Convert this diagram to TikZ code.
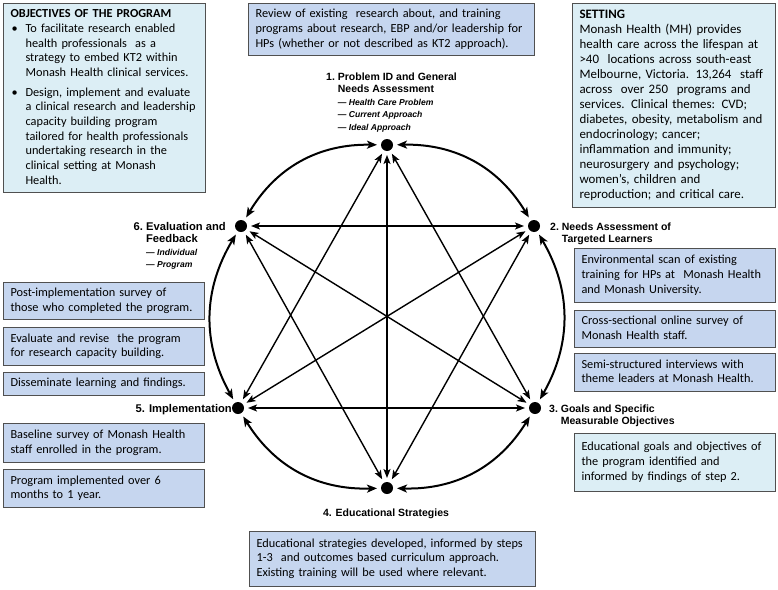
\documentclass[tikz,border=0pt]{standalone}
\usepackage{fontspec}
\setmainfont{Liberation Sans}
\newfontfamily\calfont{Carlito}
\usetikzlibrary{arrows.meta}
\definecolor{boxblue}{HTML}{C6D6EF}
\definecolor{boxcyan}{HTML}{DCEEF5}
\definecolor{boxline}{HTML}{505050}
\newcommand{\sublab}{\fontsize{8.6}{12.6}\selectfont\bfseries\itshape}
\newcommand{\rows}[1]{\begin{tabular}{@{}l@{}}#1\end{tabular}}
\tikzset{
  panel/.style={draw=boxline, line width=1.1pt, anchor=north west, inner xsep=7pt,
    inner ysep=0pt, align=left, font=\calfont\fontsize{12.3}{14.7}\selectfont},
  bluepanel/.style={panel, fill=boxblue},
  cyanpanel/.style={panel, fill=boxcyan},
  dot/.style={circle, fill=black, minimum size=12pt, inner sep=0pt, outer sep=4pt},
  steplabel/.style={font=\bfseries\fontsize{10.5}{12.6}\selectfont, inner sep=0pt},
  bigsteplabel/.style={font=\bfseries\fontsize{11.2}{13.2}\selectfont, inner sep=0pt},
  ring/.style={line width=2pt, {Stealth[length=10pt,width=8pt,inset=2.5pt]}-{Stealth[length=10pt,width=8pt,inset=2.5pt]}},
  chord/.style={line width=1.4pt, {Stealth[length=9pt,width=7pt,inset=2.2pt]}-{Stealth[length=9pt,width=7pt,inset=2.2pt]}}
}
\begin{document}
\begin{tikzpicture}[x=1pt,y=-1pt]
\useasboundingbox[fill=white] (0,0) rectangle (778,589);

% boxes
\node[cyanpanel, minimum width=202pt, text width=188pt, minimum height=189pt] (obj) at (3,3)
 {\rows{\textbf{OBJECTIVES OF THE PROGRAM}\\
  \makebox[15pt][l]{\hspace{1pt}\textbullet}To facilitate research enabled\\
  \hspace*{15pt}health professionals~ as a\\
  \hspace*{15pt}strategy to embed KT2 within\\
  \hspace*{15pt}Monash Health clinical services.\\[5pt]
  \makebox[15pt][l]{\hspace{1pt}\textbullet}Design, implement and evaluate\\
  \hspace*{15pt}a clinical research and leadership\\
  \hspace*{15pt}capacity building program\\
  \hspace*{15pt}tailored for health professionals\\
  \hspace*{15pt}undertaking research in the\\
  \hspace*{15pt}clinical setting at Monash\\
  \hspace*{15pt}Health.}};

\node[bluepanel, minimum width=286pt, text width=272pt, minimum height=52pt] (review) at (248,3)
 {\rows{Review of existing~ research about, and training\\
  programs about research, EBP and/or leadership for\\
  HPs (whether or not described as KT2 approach).}};

\node[cyanpanel, minimum width=203pt, text width=189pt, minimum height=204pt,
  font=\calfont\fontsize{12.9}{15}\selectfont] (setting) at (572,3)
 {\rows{\textbf{SETTING}\\
  Monash Health (MH) provides\\
  health care across the lifespan at\\
  >40~ locations across south-east\\
  Melbourne, Victoria. 13,264~ staff\\
  across~ over 250~ programs and\\
  services. Clinical themes: CVD;\\
  diabetes, obesity, metabolism and\\
  endocrinology; cancer;\\
  inflammation and immunity;\\
  neurosurgery and psychology;\\
  women’s, children and\\
  reproduction; and critical care.}};

\node[bluepanel, minimum width=201pt, text width=187pt, minimum height=54pt] (env) at (574,248)
 {\rows{Environmental scan of existing\\
  training for HPs at~ Monash Health\\
  and Monash University.}};
\node[bluepanel, minimum width=201pt, text width=187pt, minimum height=37pt] (cross) at (574,310)
 {\rows{Cross-sectional online survey of\\
  Monash Health staff.}};
\node[bluepanel, minimum width=201pt, text width=187pt, minimum height=38pt] (semi) at (574,353)
 {\rows{Semi-structured interviews with\\
  theme leaders at Monash Health.}};
\node[cyanpanel, minimum width=201pt, text width=187pt, minimum height=58pt] (goals) at (574,433)
 {\rows{Educational goals and objectives of\\
  the program identified and\\
  informed by findings of step 2.}};

\node[bluepanel, minimum width=201pt, text width=187pt, minimum height=37pt] (post) at (3,282)
 {\rows{Post-implementation survey of\\
  those who completed the program.}};
\node[bluepanel, minimum width=201pt, text width=187pt, minimum height=38pt] (eval) at (3,327)
 {\rows{Evaluate and revise~ the program\\
  for research capacity building.}};
\node[bluepanel, minimum width=201pt, text width=187pt, minimum height=23pt] (diss) at (3,372)
 {\rows{Disseminate learning and findings.}};
\node[bluepanel, minimum width=201pt, text width=187pt, minimum height=39pt] (base) at (3,423)
 {\rows{Baseline survey of Monash Health\\
  staff enrolled in the program.}};
\node[bluepanel, minimum width=201pt, text width=187pt, minimum height=38pt] (prog) at (3,469)
 {\rows{Program implemented over 6\\
  months to 1 year.}};

\node[bluepanel, minimum width=286pt, text width=272pt, minimum height=55pt] (edu) at (249,531)
 {\rows{Educational strategies developed, informed by steps\\
  1-3~ and outcomes based curriculum approach.\\
  Existing training will be used where relevant.}};

% dots
\node[dot] (n1) at (387,145) {};
\node[dot] (n2) at (534,226) {};
\node[dot] (n3) at (535,408) {};
\node[dot] (n4) at (387,488) {};
\node[dot] (n5) at (238,408) {};
\node[dot] (n6) at (241,226) {};

% labels
\node[steplabel, anchor=base west] (lab1) at (326,80)
 {1.\ \begin{tabular}[t]{@{}l@{}}Problem ID and General\\Needs Assessment\\
  {\sublab — Health Care Problem}\\{\sublab — Current Approach}\\{\sublab — Ideal Approach}\end{tabular}};
\node[steplabel, anchor=base west] (lab2) at (550,230)
 {2.\ \begin{tabular}[t]{@{}l@{}}Needs Assessment of\\Targeted Learners\end{tabular}};
\node[steplabel, anchor=base west] (lab3) at (549,412)
 {3.\ \begin{tabular}[t]{@{}l@{}}Goals and Specific\\Measurable Objectives\end{tabular}};
\node[steplabel, anchor=base] (lab4) at (386,516) {4. Educational Strategies};
\node[bigsteplabel, anchor=base east] (lab5) at (232,412) {5. Implementation};
\node[bigsteplabel, anchor=base east] (lab6) at (226,230)
 {6.\ \begin{tabular}[t]{@{}l@{}}Evaluation and\\[-0.6pt]Feedback\\[-0.6pt]
  {\sublab — Individual}\\[-0.6pt]{\sublab — Program}\end{tabular}};

% ring
\draw[ring] (n1) to[bend right=30] (n6);
\draw[ring] (n6) to[bend right=30] (n5);
\draw[ring] (n5) to[bend right=30] (n4);
\draw[ring] (n4) to[bend right=30] (n3);
\draw[ring] (n3) to[bend right=30] (n2);
\draw[ring] (n2) to[bend right=30] (n1);

% chords
\draw[chord] (n1) -- (n3);
\draw[chord] (n1) -- (n4);
\draw[chord] (n1) -- (n5);
\draw[chord] (n2) -- (n4);
\draw[chord] (n2) -- (n5);
\draw[chord] (n2) -- (n6);
\draw[chord] (n3) -- (n5);
\draw[chord] (n3) -- (n6);
\draw[chord] (n4) -- (n6);
\end{tikzpicture}
\end{document}
